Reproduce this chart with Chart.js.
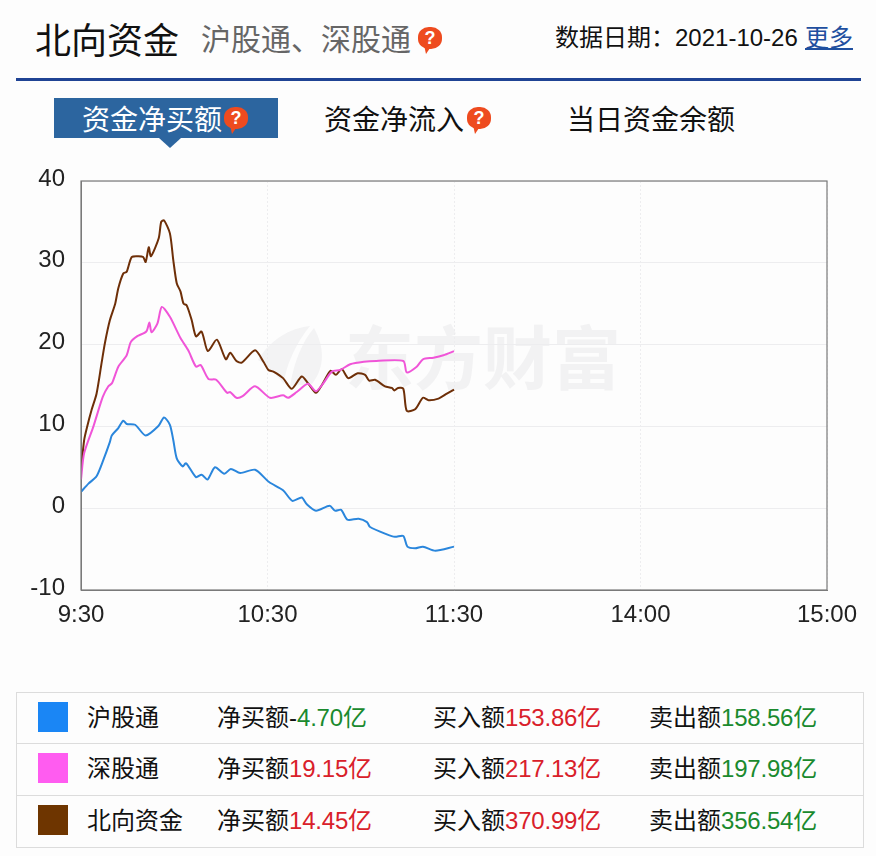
<!DOCTYPE html>
<html lang="zh"><head><meta charset="utf-8">
<script src="https://cdn.jsdelivr.net/npm/chart.js@4"></script>
<style>
html,body{margin:0;padding:0;background:#fdfdfd;width:876px;height:856px;overflow:hidden;font-family:"Noto Sans CJK SC",sans-serif;color:#111}
.t{position:absolute;white-space:nowrap;line-height:1}
.q{position:absolute;width:24px;height:22px;border-radius:45%;background:#ee4b1f;color:#fff;font:bold 18px/22px "Liberation Sans",sans-serif;text-align:center}
.q:after{content:"";position:absolute;left:6px;top:18px;border-left:2px solid transparent;border-right:6px solid transparent;border-top:9px solid #ee4b1f}
#chart{position:absolute;left:0;top:0}
.row{position:absolute;left:16px;width:848px;box-sizing:border-box;border:1px solid #dcdcdc;background:#fdfdfd}
.sw{position:absolute;left:38px;width:30px;height:30px}
.n{font-family:"Liberation Sans",sans-serif}
.num{letter-spacing:-.2px}
</style></head><body>
<div class="t" style="left:35px;top:20px;font-size:36px">北向资金</div>
<div class="t" style="left:201px;top:22px;font-size:30px;color:#666">沪股通、深股通</div>
<div class="q" style="left:418px;top:27px">?</div>
<div class="t" style="left:555px;top:24px;font-size:24px">数据日期：<span class="n">2021-10-26</span></div>
<div class="t" style="left:805px;top:24px;font-size:24px;color:#1f4f9f;text-decoration:underline">更多</div>
<div style="position:absolute;left:16px;top:78px;width:845px;height:3px;background:#1f4394"></div>
<div style="position:absolute;left:54px;top:98px;width:224px;height:40px;background:#2c659f"></div>
<div style="position:absolute;left:159px;top:138px;border-left:11px solid transparent;border-right:11px solid transparent;border-top:10px solid #2c659f"></div>
<div class="t" style="left:82px;top:104px;font-size:28px;color:#fff">资金净买额</div>
<div class="q" style="left:224px;top:107px">?</div>
<div class="t" style="left:324px;top:104px;font-size:28px">资金净流入</div>
<div class="q" style="left:467px;top:107px">?</div>
<div class="t" style="left:567px;top:104px;font-size:28px">当日资金余额</div>
<svg style="position:absolute;left:256px;top:322px" width="72" height="68"><path d="M2 38 C14 18 34 6 54 4 C44 16 30 40 28 62 C18 50 10 42 2 38 Z M58 6 C68 24 70 44 56 62 L34 64 C38 40 46 20 58 6 Z" fill="#f3f3f4"/></svg>
<div class="t" style="left:345px;top:320px;font-size:69px;font-weight:700;color:#f2f2f3">东方财富</div>
<canvas id="chart" width="876" height="856"></canvas>
<div id="legend"></div>
<script>
const seriesNames = ["沪股通","深股通","北向资金"];
const seriesColors = ["#1a86f5","#ff5cf0","#6e3500"];
const lineColors = ["#2a86dc","#f055d8","#6e2f08"];
const netBuy = ["-4.70","19.15","14.45"];
const bought = ["153.86","217.13","370.99"];
const sold = ["158.56","197.98","356.54"];
const tickTimes = {0:"9:30",60:"10:30",120:"11:30",180:"14:00",240:"15:00"};

const shMinutes = [0,2.4,5,7.2,9.3,9.9,12,13.6,14.7,17.4,20.8,25,26.7,28.6,29.7,30.8,32.7,33.8,37,38.8,40.7,43.1,46.1,48.2,51.2,56,60.5,65,68,71,72.6,75.6,80,81.7,83.7,85.7,89.3,92,93,98.4,101,103.7,105,107.5,110,114,120];
const shValues = [2,3,3.9,5.9,8.1,8.9,9.8,10.7,10.3,10.2,8.9,10.1,11.1,10.2,8.3,6.1,5.1,5.5,3.8,4.1,3.5,5,4.2,4.8,4.3,4.7,3.2,2.2,0.9,1.3,0.5,-0.3,0.3,-0.3,-0.2,-1.4,-1.3,-1.7,-2.3,-3.2,-3.5,-3.4,-4.7,-4.9,-4.7,-5.2,-4.7];
const szMinutes = [0,1,4,7,8.8,10,12,14.7,16,18,21,22,22.7,24.6,26,28.6,32,34.5,37,38.5,41,43.5,47,48,50,52,56,60.8,65,66.7,69.4,73,75.6,78,80.7,83.4,86.6,91,95,103.7,104.8,108,110,113.4,116.6,120];
const szValues = [3.5,6.7,10,13.6,14.9,15.3,17.3,18.7,20.3,21,21.6,22.7,21.5,22.6,24.6,23.4,20.8,19.3,17.3,17.5,15.8,15.7,14.1,14.2,13.5,13.7,14.9,13.5,13.8,13.5,14.2,15.2,14.3,15.3,16.7,16.9,17.6,17.9,18,18,16.6,17.3,18.2,18.4,18.7,19.2];
const nbMinutes = [0,1,2,3.4,5,6.6,7.7,9.3,11,12,13.6,14.7,16.3,18.5,20,20.8,21.8,22.5,25,25.8,26.7,28.6,29.7,30.8,32,33,34,35.6,37,38.8,40.8,43.7,46.6,48,50,51.7,56,58.7,60.3,61.9,65,67.8,71,73,75.6,77.4,80.3,82,83.9,86,89,91.4,92.7,94.6,97.8,100,100.8,102,103.7,104.8,107.5,110,111.8,115,117.7,120];
const nbValues = [4.5,8.3,10,12,14,17.7,20.2,23,25,26.9,28.7,28.9,30.7,30.8,30.7,30.1,31.9,30.8,33,35,35.2,33.6,30.3,27.5,26.5,25,24.8,23,21,21.6,19.2,20.6,18.2,19,18,17.8,19.3,17.9,16.9,16.7,15.9,14.6,16.1,15.3,14.1,15,16.8,16.3,17,15.9,16.5,16.3,15.6,15.7,14.9,14.7,14.4,14.7,14.6,11.9,12.1,13.5,13.2,13.4,14,14.5];

const zip = (xs, ys) => xs.map((x, i) => ({x, y: ys[i]}));
const seriesPoints = [zip(shMinutes, shValues), zip(szMinutes, szValues), zip(nbMinutes, nbValues)];

const rowTops = [692,743,795];
const rowHeights = [52,53,53];
const legend = document.getElementById("legend");
seriesNames.forEach((name, i) => {
  const top = rowTops[i];
  const netColor = netBuy[i].startsWith("-") ? "#1a8a2e" : "#d9202a";
  const netText = netBuy[i].startsWith("-") ? `净买额<span class="n">-</span><span class="n num" style="color:${netColor}">${netBuy[i].slice(1)}</span><span style="color:${netColor}">亿</span>` : `净买额<span class="n num" style="color:${netColor}">${netBuy[i]}</span><span style="color:${netColor}">亿</span>`;
  legend.insertAdjacentHTML("beforeend", `
  <div class="row" style="top:${top}px;height:${rowHeights[i]}px"></div>
  <div class="sw" style="top:${top+10}px;background:${seriesColors[i]}"></div>
  <div class="t" style="left:87px;top:${top+12}px;font-size:24px">${name}</div>
  <div class="t" style="left:217px;top:${top+12}px;font-size:24px">${netText}</div>
  <div class="t" style="left:433px;top:${top+12}px;font-size:24px">买入额<span class="n num" style="color:#d9202a">${bought[i]}</span><span style="color:#d9202a">亿</span></div>
  <div class="t" style="left:649px;top:${top+12}px;font-size:24px">卖出额<span class="n num" style="color:#1a8a2e">${sold[i]}</span><span style="color:#1a8a2e">亿</span></div>`);
});

new Chart(document.getElementById("chart"), {
  type: "line",
  data: { datasets: seriesNames.map((label, i) => ({
    label, data: seriesPoints[i], borderColor: lineColors[i], borderWidth: 2,
    pointRadius: 0, tension: 0.25, fill: false
  }))},
  options: {
    responsive: false, animation: false, events: [],
    layout: { padding: { top: 181, right: 49, left: 0, bottom: 0 } },
    plugins: { legend: { display: false }, tooltip: { enabled: false } },
    scales: {
      x: { type: "linear", min: 0, max: 240,
        afterFit(s) { s.height = 266; },
        afterBuildTicks(s) { s.ticks = Object.keys(tickTimes).map(v => ({value: +v})); },
        ticks: { autoSkip: false, maxRotation: 0, color: "#222", padding: 11, font: { size: 24, family: "Liberation Sans" },
          callback: v => tickTimes[v] },
        grid: { color: "#ededef", drawTicks: false, tickLength: 0 },
        border: { color: "#7a7a7a", dash: [2,2] } },
      y: { min: -10, max: 40,
        afterFit(s) { s.width = 81; },
        ticks: { stepSize: 10, color: "#222", padding: 16, labelOffset: -2, font: { size: 24, family: "Liberation Sans" } },
        grid: { color: "#ededef", drawTicks: false },
        border: { color: "#7a7a7a" } }
    }
  },
  plugins: [{ id: "frame", afterDraw(c) {
    const a = c.chartArea, g = c.ctx; g.save(); g.strokeStyle = "#7a7a7a"; g.lineWidth = 1.2;
    g.strokeRect(a.left, a.top, a.right - a.left, a.bottom - a.top); g.restore();
  }}]
});
</script>
</body></html>
